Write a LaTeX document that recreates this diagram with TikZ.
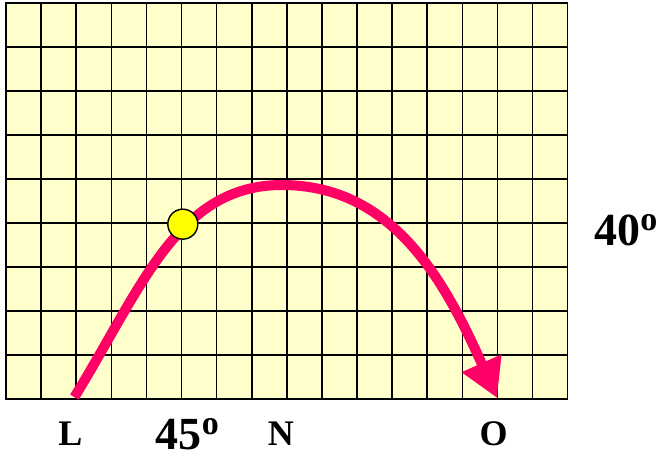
\documentclass[tikz,border=0pt]{standalone}
\usepackage{fontspec}
\setmainfont{Liberation Serif}
\usetikzlibrary{arrows.meta}
\definecolor{PaperYellow}{HTML}{FFFFCC}
\definecolor{PathPink}{HTML}{FF0066}
\definecolor{BallYellow}{HTML}{FFFF00}
\newcommand{\ordmark}{\raisebox{15.5pt}{\fontsize{34}{34}\selectfont o}}
\tikzset{
  every node/.style={font=\bfseries},
  gridline/.style={draw=black, line width=1.6pt},
  flight/.style={-{Triangle[length=38pt,width=41pt]}, draw=PathPink, line width=10pt},
  ball/.style={circle, draw=black, line width=1.4pt, fill=BallYellow, minimum size=30pt, inner sep=0pt},
  pointlabel/.style={anchor=base, font=\bfseries\fontsize{36}{36}\selectfont},
  anglelabel/.style={anchor=base, inner sep=0pt, font=\bfseries\fontsize{46}{46}\selectfont},
}
\begin{document}
\begin{tikzpicture}[x=35.1pt, y=44pt]
  \useasboundingbox (-0.171,-1.357) rectangle (18.604,9.075);
  % Squared paper
  \fill[PaperYellow] (0,0) rectangle (16,9);
  \foreach \col in {1,...,15} {
    \draw[gridline] (\col,0) -- (\col,9);
  }
  \foreach \row in {1,...,8} {
    \draw[gridline] (0,\row) -- (16,\row);
  }
  \draw[gridline] (0,0) rectangle (16,9);
  % Trajectory
  \coordinate (launch) at (1.95,0.05);
  \coordinate (apex) at (7.86,4.87);
  \coordinate (landing) at (13.99,0.03);
  \draw[flight] (launch) .. controls (3.875,2.555) and (4.90,4.87) .. (apex)
    .. controls (11.0,4.87) and (12.48,2.73) .. (landing);
  \node[ball] (marker) at (5.037,3.98) {};
  % Labels
  \node[pointlabel] (labL) at (1.835,-1.061) {L};
  \node[pointlabel] (labN) at (7.83,-1.061) {N};
  \node[pointlabel] (labO) at (13.89,-1.061) {O};
  \node[anglelabel] (launchangle) at (5.17,-1.15) {45\ordmark};
  \node[anglelabel] (apexangle) at (17.66,3.49) {40\ordmark};
\end{tikzpicture}
\end{document}
